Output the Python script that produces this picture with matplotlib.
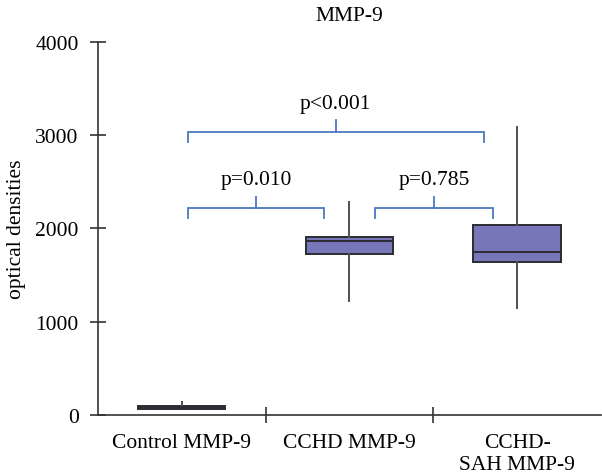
import matplotlib.pyplot as plt

plt.rcParams["font.family"] = ["Liberation Serif", "DejaVu Serif"]

groups = ["Control MMP-9", "CCHD MMP-9", "CCHD-\nSAH MMP-9"]
whislo = [60, 1226, 1144]
q1 = [68, 1727, 1644]
med = [82, 1869, 1745]
q3 = [95, 1909, 2041]
whishi = [140, 2288, 3085]

# significance brackets: left x, right x, bar height, label
br_left = [0.036, 0.036, 1.153]
br_right = [1.80, 0.851, 1.857]
br_y = [3033, 2217, 2217]
br_labels = ["p<0.001", "p=0.010", "p=0.785"]

stats = []
for i in range(len(groups)):
    stats.append(dict(whislo=whislo[i], q1=q1[i], med=med[i], q3=q3[i],
                      whishi=whishi[i], fliers=[]))

fig = plt.figure(figsize=(6.02, 4.77), dpi=100)
ax = fig.add_axes([0.163, 0.128, 0.835, 0.782])

fs = 15.5
edge = "#2b2b33"
ax.bxp(stats, positions=range(len(groups)), widths=0.52, showcaps=False,
       patch_artist=True,
       boxprops=dict(facecolor="#7676b8", edgecolor=edge, linewidth=1.4),
       medianprops=dict(color=edge, linewidth=1.4),
       whiskerprops=dict(color="#4f4f4f", linewidth=1.4))

blue = "#4a78c2"
for l, r, y, lab in zip(br_left, br_right, br_y, br_labels):
    c = (l + r) / 2
    ax.plot([l, l, r, r], [y - 105, y, y, y - 105], color=blue, lw=1.3,
            solid_joinstyle="miter")
    ax.plot([c, c], [y, y + 125], color=blue, lw=1.3)
    ax.text(c, y + 310, lab, ha="center", va="center", fontsize=fs)

ax.set_xlim(-0.5, 2.5)
ax.set_ylim(0, 4000)
ax.set_yticks([0, 1000, 2000, 3000, 4000])
ax.set_xticks(range(len(groups)))
ax.set_xticklabels(groups, fontsize=fs, linespacing=1.25)
ax.set_xticks([0.5, 1.5], minor=True)
ax.tick_params(axis="x", which="major", length=0, pad=13)
ax.tick_params(axis="x", which="minor", direction="inout", length=12,
               width=1.2, color="#333333")
ax.tick_params(axis="y", direction="inout", length=12, width=1.2,
               color="#333333", labelsize=fs, pad=8)
for s in ["top", "right"]:
    ax.spines[s].set_visible(False)
for s in ["left", "bottom"]:
    ax.spines[s].set_color("#333333")
    ax.spines[s].set_linewidth(1.2)

ax.set_ylabel("optical densities", fontsize=fs, labelpad=7)
ax.set_title("MMP-9", fontsize=fs, pad=16)

fig.savefig("out.png", dpi=100)
